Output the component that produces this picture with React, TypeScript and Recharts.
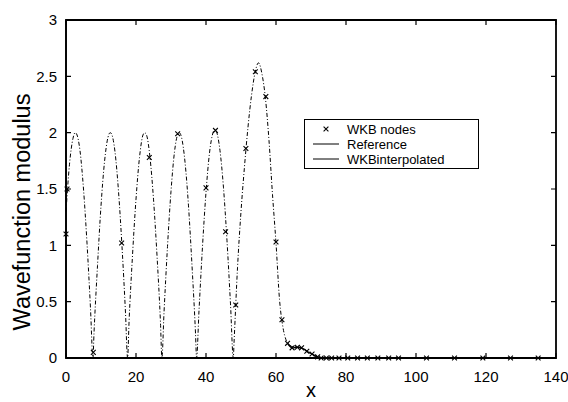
import { ComposedChart, Line, XAxis, YAxis } from "recharts";

const FONT = "'Liberation Sans', Arial, Helvetica, sans-serif";

const xTicks = [0, 20, 40, 60, 80, 100, 120, 140];
const yTicks = [0, 0.5, 1, 1.5, 2, 2.5, 3];

// reference |psi|
const referenceX = [
  0, 1, 2, 2.6, 3, 4, 5, 6, 7, 7.7,
  8, 9, 10, 11, 12, 12.65, 13, 14, 15, 16, 17, 17.6,
  18, 19, 20, 21, 22, 22.5, 23, 24, 25, 26, 27, 27.4,
  28, 29, 30, 31, 32, 32.35, 33, 34, 35, 36, 37, 37.3,
  38, 39, 40, 41, 42, 42.55, 43, 44, 45, 46, 47, 47.8,
  48, 49, 50, 51, 52, 53, 54, 55, 56, 57, 58, 59, 60, 61, 62, 63,
  64, 65, 66, 67, 68, 69, 70, 71, 72, 73, 74, 80, 100, 120, 140,
];
const referenceY = [
  1.3, 1.72, 1.95, 2.0, 1.99, 1.84, 1.5, 1.02, 0.44, 0,
  0.22, 0.82, 1.35, 1.74, 1.96, 2.0, 1.99, 1.83, 1.48, 0.99, 0.4, 0,
  0.31, 0.91, 1.41, 1.78, 1.98, 2.0, 1.98, 1.78, 1.41, 0.91, 0.31, 0,
  0.4, 0.99, 1.48, 1.83, 1.99, 2.0, 1.96, 1.74, 1.35, 0.82, 0.22, 0,
  0.42, 0.99, 1.47, 1.82, 2.0, 2.03, 2.01, 1.84, 1.51, 1.04, 0.48, 0,
  0.13, 0.8, 1.3, 1.7, 2.05, 2.33, 2.53, 2.62, 2.52, 2.3, 1.93, 1.45, 1.02, 0.52, 0.27, 0.15,
  0.11, 0.1, 0.1, 0.09, 0.075, 0.055, 0.035, 0.018, 0.007, 0.002, 0, 0, 0, 0, 0,
];

// WKB nodes (x markers)
const nodeX = [
  0, 0.3, 7.8, 15.9, 23.8, 31.9, 40.0, 42.7, 45.6, 48.5, 51.4, 54.1, 57.1, 60.0, 61.7,
  63.3, 64.6, 66.1, 67.3, 68.8, 70.3, 71.9, 72.9, 74.4, 75.9, 78.0, 80.5, 83.3, 86.1,
  89.1, 92.2, 95.0, 103.0, 111.0, 119.1, 127.0, 134.9,
];
const nodeY = [
  1.1, 1.5, 0.05, 1.02, 1.78, 1.99, 1.51, 2.02, 1.12, 0.47, 1.86, 2.54, 2.32, 1.03, 0.34,
  0.13, 0.09, 0.095, 0.09, 0.06, 0.035, 0.01, 0, 0, 0, 0, 0, 0, 0,
  0, 0, 0, 0, 0, 0, 0, 0,
];

const legendLabels = ["WKB nodes", "Reference", "WKBinterpolated"];

const toPoints = (xs: number[], ys: number[]) => xs.map((x, i) => ({ x, y: ys[i] }));

const referencePoints = toPoints(referenceX, referenceY);
const nodePoints = toPoints(nodeX, nodeY);
// interpolated WKB curve only shows up on the decaying tail
const interpPoints = nodePoints.filter((p) => p.x >= 63);

const W = 568;
const H = 402;
const X_MAX = 140;
const Y_MAX = 3;
const MARGIN = { top: 20, right: 12, bottom: 0, left: 0 };
const Y_AXIS_W = 66;
const X_AXIS_H = 44;

// plot box, used for the matlab-style frame with inward ticks
const PLOT_L = MARGIN.left + Y_AXIS_W;
const PLOT_R = W - MARGIN.right;
const PLOT_T = MARGIN.top;
const PLOT_B = H - MARGIN.bottom - X_AXIS_H;
const TICK = 5;

function Cross(props: any) {
  const { cx, cy } = props;
  if (cx == null || cy == null) return null;
  const r = 2.4;
  return (
    <path
      d={`M${cx - r},${cy - r}L${cx + r},${cy + r}M${cx - r},${cy + r}L${cx + r},${cy - r}`}
      stroke="#000"
      strokeWidth={1.1}
      fill="none"
    />
  );
}

function Frame() {
  const px = (t: number) => PLOT_L + (t / X_MAX) * (PLOT_R - PLOT_L);
  const py = (v: number) => PLOT_B - (v / Y_MAX) * (PLOT_B - PLOT_T);
  return (
    <svg
      width={W}
      height={H}
      style={{ position: "absolute", left: 0, top: 0, pointerEvents: "none", zIndex: 2 }}
    >
      <path
        d={`M${PLOT_L},${PLOT_T}H${PLOT_R}V${PLOT_B}H${PLOT_L}Z`}
        fill="none"
        stroke="#000"
        strokeWidth={1.8}
      />
      {xTicks.map((t) => (
        <path
          key={`x${t}`}
          d={`M${px(t)},${PLOT_B}v${-TICK}M${px(t)},${PLOT_T}v${TICK}`}
          stroke="#000"
          strokeWidth={1.2}
        />
      ))}
      {yTicks.map((t) => (
        <path
          key={`y${t}`}
          d={`M${PLOT_L},${py(t)}h${TICK}M${PLOT_R},${py(t)}h${-TICK}`}
          stroke="#000"
          strokeWidth={1.2}
        />
      ))}
    </svg>
  );
}

function LegendBox() {
  return (
    <div
      style={{
        position: "absolute",
        left: 304,
        top: 119,
        width: 175,
        height: 50,
        boxSizing: "border-box",
        border: "1.5px solid #000",
        background: "#fff",
        zIndex: 3,
      }}
    >
      <svg width={172} height={47} style={{ display: "block" }}>
        {legendLabels.map((label, i) => {
          const y = 9 + i * 15;
          return (
            <g key={label}>
              {i === 0 ? (
                <Cross cx={21} cy={y} />
              ) : (
                <line x1={8} x2={34} y1={y} y2={y} stroke="#000" strokeWidth={1} />
              )}
              <text x={42} y={y + 4.5} fontSize={13} fontFamily={FONT} fill="#000">
                {label}
              </text>
            </g>
          );
        })}
      </svg>
    </div>
  );
}

const axisLine = { stroke: "#000", strokeWidth: 1.5 };
const tickStyle = { fill: "#000", fontSize: 15, fontFamily: FONT };

export default function App() {
  return (
    <div style={{ position: "absolute", left: 0, top: 0, width: W, height: H, background: "#fff" }}>
      <ComposedChart width={W} height={H} margin={MARGIN}>
        <XAxis
          type="number"
          dataKey="x"
          domain={[0, X_MAX]}
          ticks={xTicks}
          height={X_AXIS_H}
          tickSize={0}
          tickMargin={13}
          axisLine={axisLine}
          tickLine={false}
          tick={tickStyle}
          label={{ value: "x", position: "insideBottom", offset: 5, fontSize: 20, fill: "#000", fontFamily: FONT }}
        />
        <YAxis
          type="number"
          dataKey="y"
          domain={[0, Y_MAX]}
          ticks={yTicks}
          width={Y_AXIS_W}
          tickSize={0}
          tickMargin={9}
          axisLine={axisLine}
          tickLine={false}
          tick={tickStyle}
          label={{
            content: () => (
              <text
                transform="translate(30,212) rotate(-90)"
                textAnchor="middle"
                fontSize={23.5}
                fontFamily={FONT}
                fill="#000"
              >
                Wavefunction modulus
              </text>
            ),
          }}
        />
        <Line
          data={referencePoints}
          dataKey="y"
          type="monotone"
          stroke="#000"
          strokeWidth={1}
          strokeDasharray="4 2 1 2"
          dot={false}
          activeDot={false}
          isAnimationActive={false}
        />
        <Line
          data={interpPoints}
          dataKey="y"
          type="monotone"
          stroke="#000"
          strokeWidth={1.3}
          dot={false}
          activeDot={false}
          isAnimationActive={false}
        />
        {/* WKB nodes: markers only, no connecting stroke */}
        <Line
          data={nodePoints}
          dataKey="y"
          stroke="none"
          dot={<Cross />}
          activeDot={false}
          isAnimationActive={false}
        />
      </ComposedChart>
      <Frame />
      <LegendBox />
    </div>
  );
}
